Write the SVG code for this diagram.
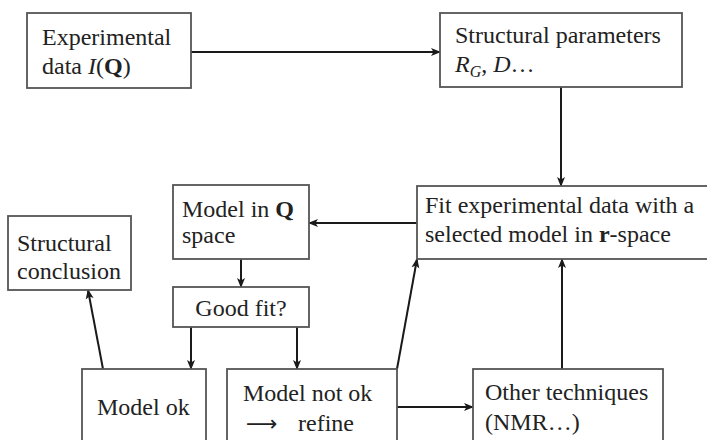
<svg xmlns="http://www.w3.org/2000/svg" width="707" height="440" viewBox="0 0 707 440">
  <style>
    .box { fill: #ffffff; stroke: #555555; stroke-width: 1.8; }
    .txt { font-family: "Liberation Serif", "Times New Roman", serif; font-size: 24px; fill: #222222; }
    .it { font-style: italic; }
    .bd { font-weight: bold; }
    .edge { fill: none; stroke: #1a1a1a; stroke-width: 2; marker-end: url(#head); }
  </style>
  <defs>
    <marker id="head" markerUnits="userSpaceOnUse" markerWidth="10" markerHeight="10" viewBox="0 0 10 10" refX="9" refY="5" orient="auto">
      <path d="M0,1 L10,5 L0,9 L2.5,5 Z" fill="#1a1a1a"/>
    </marker>
  </defs>
  <rect width="707" height="440" fill="#ffffff"/>

  <g id="connectors">
    <line class="edge" x1="191" y1="52" x2="440" y2="52"/>
    <line class="edge" x1="561" y1="87" x2="561" y2="186"/>
    <line class="edge" x1="417" y1="223" x2="309" y2="223"/>
    <line class="edge" x1="241" y1="259" x2="241" y2="287"/>
    <line class="edge" x1="191" y1="327" x2="191" y2="369"/>
    <line class="edge" x1="297" y1="327" x2="297" y2="369"/>
    <line class="edge" x1="103" y1="369" x2="88" y2="290"/>
    <line class="edge" x1="397" y1="369" x2="417" y2="259"/>
    <line class="edge" x1="397" y1="407" x2="473" y2="407"/>
    <line class="edge" x1="562" y1="369" x2="562" y2="259"/>
  </g>

  <g id="experimental-data">
    <rect class="box" x="27" y="13" width="164" height="75"/>
    <text class="txt" x="42" y="45">Experimental</text>
    <text class="txt" x="42" y="74">data <tspan class="it">I</tspan>(<tspan class="bd">Q</tspan>)</text>
  </g>

  <g id="structural-parameters">
    <rect class="box" x="440" y="13" width="242" height="74"/>
    <text class="txt" x="455" y="43">Structural parameters</text>
    <text class="txt" x="455" y="72"><tspan class="it">R</tspan><tspan class="it" font-size="16" dy="5">G</tspan><tspan dy="-5">, </tspan><tspan class="it">D</tspan>…</text>
  </g>

  <g id="fit-model">
    <rect class="box" x="417" y="186" width="292" height="73"/>
    <text class="txt" x="425" y="213">Fit experimental data with a</text>
    <text class="txt" x="425" y="242">selected model in <tspan class="bd">r</tspan>-space</text>
  </g>

  <g id="model-q-space">
    <rect class="box" x="173" y="185" width="136" height="74"/>
    <text class="txt" x="182" y="217">Model in <tspan class="bd">Q</tspan></text>
    <text class="txt" x="182" y="243">space</text>
  </g>

  <g id="good-fit">
    <rect class="box" x="173" y="287" width="136" height="40"/>
    <text class="txt" x="241" y="316" text-anchor="middle">Good fit?</text>
  </g>

  <g id="structural-conclusion">
    <rect class="box" x="8" y="216" width="123" height="74"/>
    <text class="txt" x="17" y="251">Structural</text>
    <text class="txt" x="17" y="279">conclusion</text>
  </g>

  <g id="model-ok">
    <rect class="box" x="82" y="369" width="124" height="80"/>
    <text class="txt" x="97" y="415">Model ok</text>
  </g>

  <g id="model-not-ok">
    <rect class="box" x="227" y="369" width="170" height="80"/>
    <text class="txt" x="243" y="401">Model not ok</text>
    <text class="txt" x="246" y="431"><tspan font-family="DejaVu Sans, sans-serif" font-size="22">⟶</tspan> <tspan x="298">refine</tspan></text>
  </g>

  <g id="other-techniques">
    <rect class="box" x="473" y="369" width="190" height="80"/>
    <text class="txt" x="485" y="400">Other techniques</text>
    <text class="txt" x="485" y="430">(NMR…)</text>
  </g>
</svg>
